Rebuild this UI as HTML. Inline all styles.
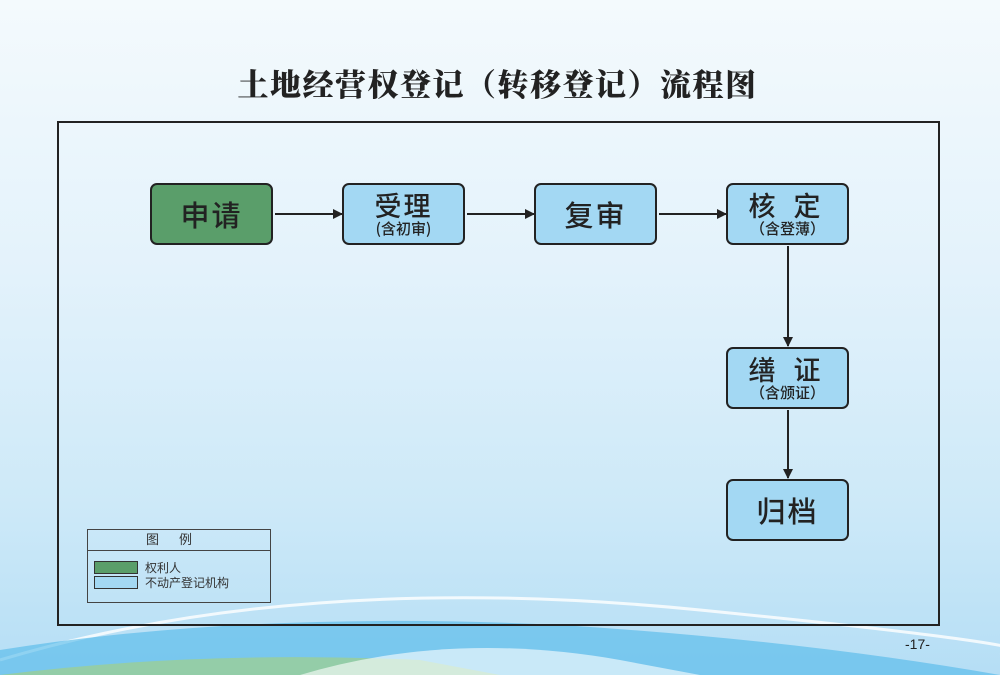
<!DOCTYPE html>
<html><head><meta charset="utf-8"><style>
body{margin:0;width:1000px;height:675px;overflow:hidden;position:relative;font-family:"Liberation Sans","Noto Sans CJK SC",sans-serif;
background:linear-gradient(180deg,#f4fafd 0%,#e3f2fb 40%,#cde9f8 75%,#b5def5 100%);}
.t{position:absolute;top:60px;left:0;width:995px;text-align:center;font-family:"Noto Serif CJK SC",serif;font-weight:900;font-size:31px;color:#222;letter-spacing:1.5px}
.frame{position:absolute;left:57px;top:121px;width:879px;height:501px;border:2px solid #222;}
.b{position:absolute;width:119px;height:58px;border:2px solid #222;border-radius:7px;background:#a3d8f3;text-align:center;color:#222;box-sizing:content-box;font-family:"Noto Sans CJK SC",sans-serif;font-weight:500}
.g{background:#5a9e6a}
.m{font-size:29px;line-height:58px;letter-spacing:2px}
.m2{font-size:27px;line-height:30px;margin-top:5px;letter-spacing:6px}
.s{font-size:15px;line-height:18px}
.leg{position:absolute;left:87px;top:529px;width:182px;height:72px;border:1px solid #444;font-size:12px;color:#333}
.page{position:absolute;left:905px;top:636px;font-size:14px;color:#222}
</style></head><body>
<svg style="position:absolute;left:0;top:0" width="1000" height="675">
<path d="M0,660 Q300,570 700,610 T1000,655" stroke="#fff" stroke-width="3" fill="none" opacity=".8"/>
<path d="M0,675 L0,650 Q250,610 560,625 Q800,640 1000,675Z" fill="#4fb8ea" opacity=".6"/>
<path d="M0,675 Q200,650 420,660 L500,675Z" fill="#9fd08a" opacity=".7"/>
<path d="M300,675 Q450,630 620,660 L700,675Z" fill="#fff" opacity=".6"/>
</svg>
<div class="t">土地经营权登记（转移登记）流程图</div>
<div class="frame"></div>
<svg style="position:absolute;left:0;top:0" width="1000" height="675">
<defs><marker id="a" markerWidth="10" markerHeight="10" refX="9" refY="5" orient="auto" markerUnits="userSpaceOnUse"><path d="M0,0 L10,5 L0,10Z" fill="#222"/></marker></defs>
<g stroke="#222" stroke-width="2" fill="none">
<line x1="275" y1="214" x2="342" y2="214" marker-end="url(#a)"/>
<line x1="467" y1="214" x2="534" y2="214" marker-end="url(#a)"/>
<line x1="659" y1="214" x2="726" y2="214" marker-end="url(#a)"/>
<line x1="788" y1="246" x2="788" y2="346" marker-end="url(#a)"/>
<line x1="788" y1="410" x2="788" y2="478" marker-end="url(#a)"/>
</g></svg>
<div class="b g m" style="left:150px;top:183px">申请</div>
<div class="b" style="left:342px;top:183px"><div class="m2" style="letter-spacing:2px">受理</div><div class="s">(含初审)</div></div>
<div class="b m" style="left:534px;top:183px">复审</div>
<div class="b" style="left:726px;top:183px"><div class="m2">核 定</div><div class="s">（含登薄）</div></div>
<div class="b" style="left:726px;top:347px"><div class="m2">缮 证</div><div class="s">（含颁证）</div></div>
<div class="b m" style="left:726px;top:479px">归档</div>
<div class="leg">
<div style="height:20px;line-height:20px;border-bottom:1px solid #444;text-align:center;letter-spacing:20px;font-size:13px">图例</div>
<div style="position:absolute;left:6px;top:31px;width:42px;height:11px;background:#5a9e6a;border:1px solid #333"></div>
<div style="position:absolute;left:57px;top:29px">权利人</div>
<div style="position:absolute;left:6px;top:46px;width:42px;height:11px;background:#a3d8f3;border:1px solid #333"></div>
<div style="position:absolute;left:57px;top:44px">不动产登记机构</div>
</div>
<div class="page">-17-</div>
</body></html>
